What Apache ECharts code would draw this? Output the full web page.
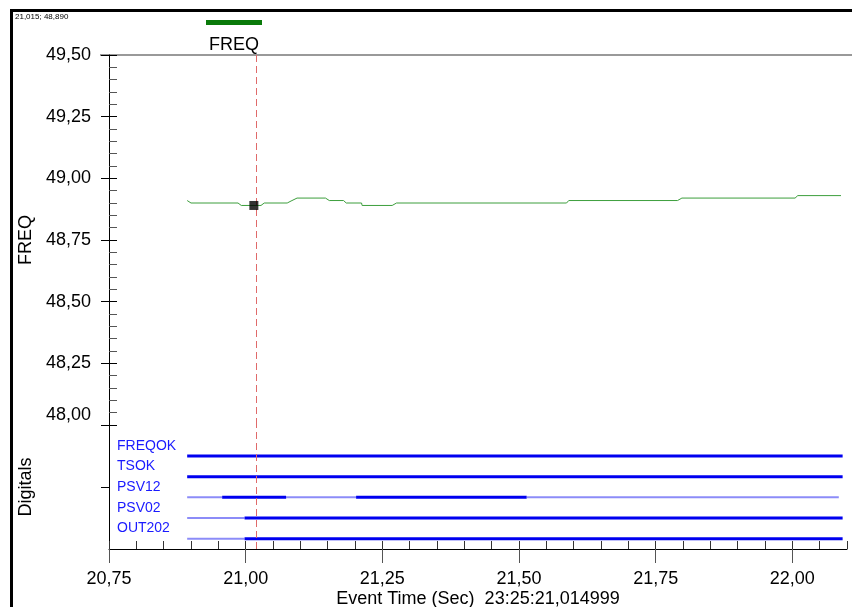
<!DOCTYPE html>
<html>
<head>
<meta charset="utf-8">
<script src="https://cdn.jsdelivr.net/npm/echarts@6/dist/echarts.min.js"></script>
<style>html,body{margin:0;padding:0;background:#fff}#c{width:852px;height:607px}</style>
</head>
<body>
<div id="c"></div>
<script>
// ---- data ----
var freqTimes  = [20.893, 20.900, 20.986, 20.992, 21.028, 21.034, 21.076, 21.083, 21.094, 21.146, 21.153, 21.179, 21.184, 21.212, 21.213, 21.268, 21.276, 21.587, 21.591, 21.790, 21.798, 22.005, 22.010, 22.089];
var freqValues = [48.910, 48.900, 48.900, 48.890, 48.890, 48.900, 48.900, 48.908, 48.920, 48.920, 48.910, 48.910, 48.900, 48.900, 48.890, 48.890, 48.900, 48.900, 48.910, 48.910, 48.920, 48.920, 48.930, 48.930];
var digitalNames = ['FREQOK', 'TSOK', 'PSV12', 'PSV02', 'OUT202'];
var digitalTimes = [
  [20.893, 22.092],
  [20.893, 22.092],
  [20.893, 20.957, 21.074, 21.202, 21.514, 22.085],
  [20.893, 20.998, 22.092],
  [20.893, 20.998, 22.092]
];
var digitalStates = [
  [1],
  [1],
  [0, 1, 0, 1, 0],
  [0, 1],
  [0, 1]
];
var yTicks = ['48,00', '48,25', '48,50', '48,75', '49,00', '49,25', '49,50'];
var xTicks = ['20,75', '21,00', '21,25', '21,50', '21,75', '22,00'];
var cursorTime = 21.015, cursorValue = 48.890;
var seriesName = 'FREQ';
var xAxisTitle = 'Event Time (Sec)  23:25:21,014999';

// ---- chart ----
var FONT = 'Liberation Sans, Arial, sans-serif';
function fmt3(v){ return v.toFixed(3).replace('.', ','); }
var xMin = 20.75, xMax = 22.1;

var series = [];
series.push({
  type: 'line', name: seriesName, xAxisIndex: 0, yAxisIndex: 0,
  data: freqTimes.map(function(t, i){ return [t, freqValues[i]]; }),
  showSymbol: false, symbol: 'none',
  lineStyle: { color: '#3c9e3c', width: 1 }, itemStyle: { color: '#3c9e3c' },
  animation: false, silent: true,
  markLine: { symbol: 'none', silent: true, label: { show: false },
    lineStyle: { color: '#e06a6a', type: [7, 4], width: 1 },
    data: [{ xAxis: cursorTime }] }
});
series.push({
  type: 'scatter', xAxisIndex: 0, yAxisIndex: 0, z: 10,
  data: [[cursorTime, cursorValue]], symbol: 'rect', symbolSize: 9,
  itemStyle: { color: '#000' }, animation: false, silent: true
});
var rowCount = digitalNames.length;
digitalNames.forEach(function(name, ci){
  var row = rowCount - ci - 0.5;
  var ts = digitalTimes[ci], st = digitalStates[ci];
  for (var k = 0; k < st.length; k++) {
    var hi = st[k] === 1;
    var s = {
      type: 'line', xAxisIndex: 2, yAxisIndex: 2,
      data: [[ts[k], row], [ts[k + 1], row]],
      showSymbol: false, symbol: 'none', animation: false, silent: true,
      lineStyle: { color: hi ? '#0000f0' : '#8c8cf8', width: hi ? 3 : 2 },
      z: hi ? 3 : 2
    };
    if (ci === 0 && k === 0) {
      s.markLine = { symbol: 'none', silent: true, label: { show: false },
        lineStyle: { color: '#e06a6a', type: [7, 4], width: 1 },
        data: [{ xAxis: cursorTime }] };
    }
    series.push(s);
  }
});

var option = {
  backgroundColor: '#fff',
  animation: false,
  textStyle: { fontFamily: FONT },
  grid: [
    { left: 109, right: 5, top: 55, height: 370, outerBoundsMode: 'none', containLabel: false },
    { left: 109, right: 5, top: 425, height: 124, outerBoundsMode: 'none', containLabel: false }
  ],
  xAxis: [
    { gridIndex: 0, type: 'value', min: xMin, max: xMax, show: false },
    { gridIndex: 1, type: 'value', position: 'bottom', min: xMin, max: xMax, interval: 0.05,
      axisLine: { show: false }, axisLabel: { show: false }, splitLine: { show: false },
      axisTick: { show: true, inside: true, length: 8, lineStyle: { color: '#333' } } },
    { gridIndex: 1, type: 'value', position: 'bottom', min: xMin, max: xMax, interval: 0.25,
      axisLine: { show: true, onZero: false, lineStyle: { color: '#000', width: 1 } },
      splitLine: { show: false },
      axisTick: { show: true, inside: false, length: 14, lineStyle: { color: '#555' } },
      axisLabel: { show: true, margin: 21, fontSize: 18, color: '#000', fontFamily: FONT, showMaxLabel: false,
        formatter: function(v){ var r = (v - xMin) / 0.25, i = Math.round(r); return Math.abs(r - i) < 1e-6 ? (xTicks[i] || '') : ''; } },
      name: xAxisTitle, nameLocation: 'middle', nameGap: 41,
      nameTextStyle: { fontSize: 18, color: '#000', fontFamily: FONT } }
  ],
  yAxis: [
    { gridIndex: 0, type: 'value', position: 'left', min: 48, max: 49.5, interval: 0.25,
      axisLine: { show: true, lineStyle: { color: '#000' } },
      splitLine: { show: false },
      axisTick: { show: true, inside: true, length: 8, lineStyle: { color: '#000' } },
      minorTick: { show: true, splitNumber: 5, length: 8, lineStyle: { color: '#555' } },
      axisLabel: { margin: 18, fontSize: 18, color: '#000', fontFamily: FONT,
        formatter: function(v){ var i = Math.round((v - 48) / 0.25); return i === 0 ? '{lo|' + yTicks[i] + '}' : yTicks[i]; },
        rich: { lo: { fontSize: 18, color: '#000', fontFamily: FONT, padding: [0, 0, 20, 0] } } },
      name: 'FREQ', nameLocation: 'middle', nameGap: 74, nameRotate: 90,
      nameTextStyle: { fontSize: 18, color: '#000', fontFamily: FONT } },
    { gridIndex: 0, type: 'value', position: 'left', offset: 0, min: 48, max: 49.5, interval: 0.25,
      axisLine: { show: false }, axisLabel: { show: false }, splitLine: { show: false },
      axisTick: { show: true, inside: false, length: 8, lineStyle: { color: '#000' } } },
    { gridIndex: 1, type: 'value', position: 'left', min: 0, max: 6, interval: 1,
      axisLine: { show: true, lineStyle: { color: '#000' } },
      splitLine: { show: false },
      axisTick: { show: true, inside: false, length: 8, customValues: [3], lineStyle: { color: '#000' } },
      axisLabel: { show: true, inside: true, margin: 8, fontSize: 14, color: '#1a1aff', fontFamily: FONT,
        customValues: [1, 2, 3, 4, 5],
        formatter: function(v){ return digitalNames[rowCount - Math.round(v)] || ''; } },
      name: 'Digitals', nameLocation: 'middle', nameGap: 74, nameRotate: 90,
      nameTextStyle: { fontSize: 18, color: '#000', fontFamily: FONT } }
  ],
  graphic: [
    { type: 'polyline', shape: { points: [[11.5, 607], [11.5, 10.5], [852, 10.5]] },
      style: { stroke: '#000', lineWidth: 3, fill: null }, silent: true },
    { type: 'line', shape: { x1: 100, y1: 55, x2: 852, y2: 55 },
      style: { stroke: '#999', lineWidth: 2 }, silent: true, z: -1 },
    { type: 'text', left: 15, top: 13,
      style: { text: fmt3(cursorTime) + '; ' + fmt3(cursorValue), fontSize: 8, fill: '#000', fontFamily: FONT } },
    { type: 'rect', shape: { x: 206, y: 20, width: 56, height: 5 }, style: { fill: '#0a7a0a' } },
    { type: 'text', x: 234, y: 45,
      style: { text: seriesName, fontSize: 18, fill: '#000', fontFamily: FONT, align: 'center', verticalAlign: 'middle' } }
  ],
  series: series
};
var chart = echarts.init(document.getElementById('c'), null, { renderer: 'canvas' });
chart.setOption(option);
</script>
</body>
</html>
